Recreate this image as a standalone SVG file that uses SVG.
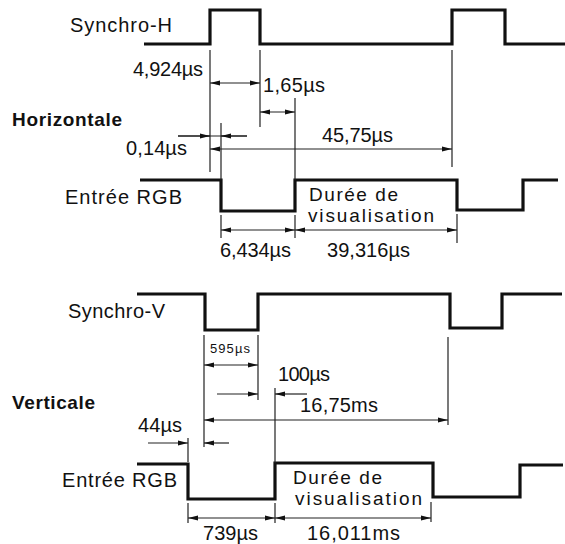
<svg xmlns="http://www.w3.org/2000/svg" width="565" height="544" viewBox="0 0 565 544">
<style>
text{font-family:"Liberation Sans",Arial,sans-serif;font-size:20px;fill:#111}
.b{font-weight:bold;font-size:19px}
.sm{font-size:13px}
.dv{font-size:19px}
.wave{fill:none;stroke:#111;stroke-width:3.2;stroke-linejoin:miter}
.ext{fill:none;stroke:#222;stroke-width:1.2}
.dim{fill:none;stroke:#222;stroke-width:1.2}
.da{marker-start:url(#ah);marker-end:url(#ah)}
.ea{marker-end:url(#ah)}
</style>
<defs>
<marker id="ah" markerUnits="userSpaceOnUse" markerWidth="11" markerHeight="6" refX="10" refY="3" orient="auto-start-reverse">
<path d="M0,0.5 L10,3 L0,5.5 z" fill="#111"/>
</marker>
</defs>
<rect width="565" height="544" fill="#fff"/>

<!-- Horizontal section -->
<g id="synchro-h">
<path class="wave" d="M144,44 H210 V10 H260 V44 H452 V10 H505 V44 H565"/>
<text x="70" y="32" textLength="102" lengthAdjust="spacing">Synchro-H</text>
</g>
<g id="label-horizontale">
<text class="b" x="12" y="126" textLength="110" lengthAdjust="spacing">Horizontale</text>
</g>
<g id="rgb-h">
<path class="wave" d="M140,180 H221 V211 H295 V180 H457 V210 H523 V180 H558"/>
<text x="65" y="204" textLength="117" lengthAdjust="spacing">Entrée RGB</text>
<text class="dv" x="309" y="201" textLength="89" lengthAdjust="spacing">Durée de</text>
<text class="dv" x="308" y="222" textLength="126" lengthAdjust="spacing">visualisation</text>
</g>

<!-- Vertical section -->
<g id="synchro-v">
<path class="wave" d="M137,294 H205 V330 H258 V294 H450 V328 H502 V294 H562"/>
<text x="68" y="318" textLength="97" lengthAdjust="spacing">Synchro-V</text>
</g>
<g id="label-verticale">
<text class="b" x="12" y="409" textLength="83" lengthAdjust="spacing">Verticale</text>
</g>
<g id="rgb-v">
<path class="wave" d="M137,464 H188 V499 H275 V463 H433 V497 H520 V465 H563"/>
<text x="62" y="487" textLength="115" lengthAdjust="spacing">Entrée RGB</text>
<text class="dv" x="293" y="484" textLength="89" lengthAdjust="spacing">Durée de</text>
<text class="dv" x="295" y="505" textLength="127" lengthAdjust="spacing">visualisation</text>
</g>

<g id="connectors">
<!-- horizontal extension lines -->
<path class="ext" d="M210,50 V172 M221,123 V180 M260,50 V127 M295,98 V180 M452,50 V167 M221,215 V238 M295,215 V238 M457,214 V243"/>
<!-- horizontal dimensions -->
<path class="dim da" d="M210,83 H260"/>
<path class="dim da" d="M260,112 H295"/>
<path class="dim" d="M178,136 H247"/>
<path class="dim ea" d="M178,136 H210"/>
<path class="dim ea" d="M247,136 H221"/>
<path class="dim da" d="M210,149 H452"/>
<path class="dim da" d="M221,230 H295"/>
<path class="dim da" d="M295,230 H457"/>
<!-- vertical extension lines -->
<path class="ext" d="M204,335 V447 M258,335 V400 M275,388 V463 M188,438 V462 M448,337 V425 M188,503 V523 M275,503 V523 M431,502 V522"/>
<!-- vertical dimensions -->
<path class="dim da" d="M204,365 H258"/>
<path class="dim ea" d="M217,394 H258"/>
<path class="dim ea" d="M307,394 H275"/>
<path class="dim da" d="M204,420 H448"/>
<path class="dim ea" d="M148,443 H188"/>
<path class="dim ea" d="M229,443 H204"/>
<path class="dim da" d="M188,518 H275"/>
<path class="dim da" d="M275,518 H431"/>
</g>

<g id="dimension-labels">
<text x="133" y="76" textLength="70" lengthAdjust="spacing">4,924µs</text>
<text x="263" y="92" textLength="62" lengthAdjust="spacing">1,65µs</text>
<text x="126" y="155" textLength="61" lengthAdjust="spacing">0,14µs</text>
<text x="322" y="142" textLength="71" lengthAdjust="spacing">45,75µs</text>
<text x="220" y="257" textLength="71" lengthAdjust="spacing">6,434µs</text>
<text x="327" y="257" textLength="83" lengthAdjust="spacing">39,316µs</text>
<text class="sm" x="210" y="353" textLength="40" lengthAdjust="spacing">595µs</text>
<text x="278" y="381" textLength="52" lengthAdjust="spacing">100µs</text>
<text x="300" y="412" textLength="78" lengthAdjust="spacing">16,75ms</text>
<text x="138" y="432" textLength="44" lengthAdjust="spacing">44µs</text>
<text x="203" y="540" textLength="55" lengthAdjust="spacing">739µs</text>
<text x="307" y="540" textLength="93" lengthAdjust="spacing">16,011ms</text>
</g>
</svg>
